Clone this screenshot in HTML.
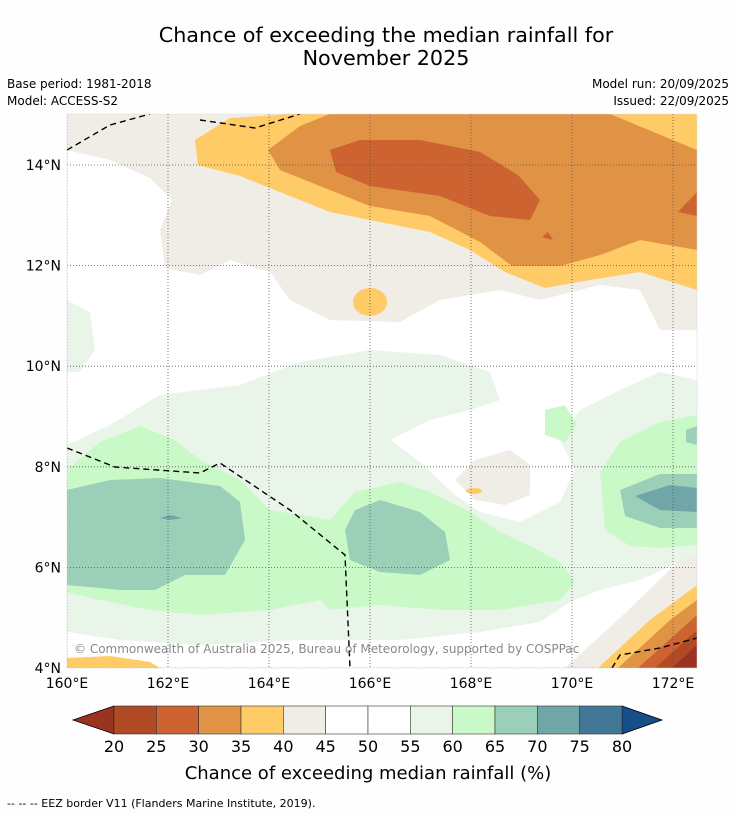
<!DOCTYPE html>
<html><head><meta charset="utf-8"><style>
body{margin:0;background:#fff;font-family:"Liberation Sans","DejaVu Sans",sans-serif;}
#wrap{position:relative;width:736px;height:816px;overflow:hidden;background:#fefefe}
svg text{font-family:"DejaVu Sans","Liberation Sans",sans-serif}
</style></head><body>
<div id="wrap">
<svg id="svg" width="736" height="816" viewBox="0 0 736 816">
<text x="386" y="42" font-size="20.7" text-anchor="middle">Chance of exceeding the median rainfall for</text>
<text x="386" y="65" font-size="20.7" text-anchor="middle">November 2025</text>
<text x="7" y="88" font-size="12">Base period: 1981-2018</text>
<text x="7" y="105" font-size="12">Model: ACCESS-S2</text>
<text x="729" y="88" font-size="12" text-anchor="end">Model run: 20/09/2025</text>
<text x="729" y="105" font-size="12" text-anchor="end">Issued: 22/09/2025</text>
<defs><clipPath id="mc"><rect x="67" y="114" width="630" height="554"/></clipPath></defs>
<g clip-path="url(#mc)">
<rect x="67" y="114" width="630" height="554" fill="#ffffff"/>
<path fill="#f0ece6" d="M67,114 L697,114 L697,330 L660,330 L640,290 L600,285 L540,300 L500,290 L440,300 L400,322 L330,320 L290,300 L270,272 L230,260 L200,275 L165,268 L160,230 L172,200 L150,178 L110,160 L67,150 Z"/>
<path fill="#fecb66" d="M195,140 L230,118 L290,114 L697,114 L697,290 L640,272 L590,280 L545,288 L505,272 L470,250 L430,232 L380,222 L330,212 L290,196 L240,176 L198,165 Z"/>
<ellipse cx="370" cy="302" rx="17" ry="14" fill="#fecb66"/>
<path fill="#e09245" d="M268,150 L300,126 L330,114 L610,114 L697,150 L697,250 L640,240 L600,255 L560,266 L512,266 L480,242 L430,216 L370,206 L320,186 L280,170 Z"/>
<path fill="#cc6330" d="M330,150 L360,140 L420,140 L480,152 L518,175 L540,200 L530,220 L490,216 L440,196 L370,186 L336,172 Z"/>
<path fill="#cc6330" d="M678,212 L697,192 L697,216 Z"/>
<path fill="#cc6330" d="M542,237 L548,232 L553,240 Z"/>
<path fill="#eaf5ea" d="M67,300 L90,312 L95,350 L80,372 L67,372 Z"/>
<path fill="#eaf5ea" d="M67,445 L110,425 L160,395 L240,385 L300,362 L370,350 L440,355 L490,372 L500,400 L470,410 L430,420 L390,440 L420,462 L455,495 L480,512 L520,522 L560,502 L575,470 L560,440 L580,410 L620,390 L660,372 L697,380 L697,555 L680,562 L640,580 L600,590 L570,602 L540,622 L480,632 L400,640 L300,640 L200,645 L120,640 L67,632 Z"/>
<path fill="#ffffff" d="M430,440 L470,425 L520,430 L560,450 L570,480 L555,505 L520,515 L480,505 L455,485 L435,460 Z"/>
<path fill="#f0ece6" d="M455,480 L475,460 L510,450 L530,465 L530,495 L505,505 L475,500 Z"/>
<ellipse fill="#fecb66" cx="474" cy="491" rx="8" ry="3"/>
<path fill="#caf9c8" d="M67,470 L100,442 L140,426 L175,440 L200,460 L240,480 L270,510 L330,520 L355,492 L400,482 L430,492 L470,512 L500,532 L530,546 L560,562 L575,582 L560,600 L500,610 L440,610 L380,605 L330,610 L320,600 L270,610 L200,615 L150,610 L100,600 L67,592 Z"/>
<path fill="#caf9c8" d="M600,472 L620,442 L660,422 L697,415 L697,545 L660,548 L630,546 L605,530 Z"/>
<path fill="#caf9c8" d="M545,410 L565,405 L577,425 L565,442 L545,435 Z"/>
<path fill="#9ccfb8" d="M67,490 L110,480 L160,478 L220,486 L240,502 L245,540 L225,575 L185,575 L155,590 L120,590 L67,585 Z"/>
<path fill="#9ccfb8" d="M355,510 L380,500 L420,512 L445,532 L450,560 L420,575 L380,572 L350,560 L345,530 Z"/>
<path fill="#9ccfb8" d="M620,490 L660,474 L697,474 L697,528 L660,528 L625,516 Z"/>
<path fill="#9ccfb8" d="M686,430 L697,426 L697,445 L686,442 Z"/>
<path fill="#71a6a8" d="M635,496 L670,485 L697,488 L697,512 L660,510 Z"/>
<path fill="#71a6a8" d="M160,518 L170,515 L182,518 L170,520 Z"/>
<path fill="#f0ece6" d="M565,668 L620,618 L680,560 L697,555 L697,668 Z"/>
<path fill="#fecb66" d="M598,668 L650,620 L697,585 L697,668 Z"/>
<path fill="#e09245" d="M618,668 L670,620 L697,600 L697,668 Z"/>
<path fill="#cc6330" d="M638,668 L697,615 L697,668 Z"/>
<path fill="#b04a24" d="M655,668 L697,630 L697,668 Z"/>
<path fill="#9a3320" d="M672,668 L697,645 L697,668 Z"/>
<path fill="#fecb66" d="M67,668 L67,658 L110,656 L150,662 L160,668 Z"/>
<g id="grid" stroke="#555" stroke-width="0.8" stroke-dasharray="1,2" fill="none"></g>
<g stroke="#000" stroke-width="1.4" stroke-dasharray="6,4" fill="none">
<path d="M67,150 L110,125 L150,114"/>
<path d="M200,120 L255,128 L300,114"/>
<path d="M67,448 L115,467 L200,473 L220,463 L290,510 L345,555 L350,668"/>
<path d="M612,668 L620,655 L660,648 L697,638"/>
</g>
<text x="74" y="653" font-size="12" fill="#888">© Commonwealth of Australia 2025, Bureau of Meteorology, supported by COSPPac</text>
</g>
<rect x="67" y="114" width="630" height="554" fill="none" stroke="#ddd" stroke-width="0.5"/>
<g id="axes"></g>
<g id="cbar"></g>
<text x="368" y="779" font-size="18" text-anchor="middle">Chance of exceeding median rainfall (%)</text>
<text x="7" y="807" font-size="11">--  --  -- EEZ border V11 (Flanders Marine Institute, 2019).</text>
</svg>
</div>
<script>
const lonTicks=[160,162,164,166,168,170,172];
const latTicks=[4,6,8,10,12,14];
const cbarBounds=[20,25,30,35,40,45,50,55,60,65,70,75,80];
const cbarColors=["#b04a24","#cc6330","#e09245","#fecb66","#f0ece6","#ffffff","#ffffff","#eaf5ea","#caf9c8","#9ccfb8","#71a6a8","#427895"];
const NS="http://www.w3.org/2000/svg";
const xLon=l=>67+(l-160)*50.5, yLat=l=>668-(l-4)*50.3;
const xC=v=>114+(v-20)*(508/60);
function mk(t,a,p){const e=document.createElementNS(NS,t);for(const k in a)e.setAttribute(k,a[k]);p.appendChild(e);return e;}
const grid=document.getElementById('grid'),axes=document.getElementById('axes'),cb=document.getElementById('cbar');
lonTicks.forEach(l=>{
 const g=mk('line',{x1:xLon(l),x2:xLon(l),y1:114,y2:668},grid);
 
 
 const t=mk('text',{x:xLon(l),y:688,'font-size':14,'text-anchor':'middle'},axes);
 
 
 t.textContent=l+'°E';
});
latTicks.forEach(l=>{
 const g=mk('line',{x1:67,x2:697,y1:yLat(l),y2:yLat(l)},grid);
 
 
 const t=mk('text',{x:61,y:yLat(l)+5,'font-size':14,'text-anchor':'end'},axes);
 
 
 t.textContent=l+'°N';
});
const y0=706,y1=734;
const lt=mk('path',{d:`M${xC(20)},${y0} L73,${(y0+y1)/2} L${xC(20)},${y1} Z`,fill:'#9a3320',stroke:'#000','stroke-width':0.8},cb);


const rt=mk('path',{d:`M${xC(80)},${y0} L662,${(y0+y1)/2} L${xC(80)},${y1} Z`,fill:'#144f87',stroke:'#000','stroke-width':0.8},cb);


cbarColors.forEach((c,i)=>{
 const r=mk('rect',{x:xC(cbarBounds[i]),y:y0,width:xC(cbarBounds[i+1])-xC(cbarBounds[i]),height:y1-y0,fill:c,stroke:'#333','stroke-width':0.6},cb);
 
 
});
cbarBounds.forEach(v=>{
 const t=mk('text',{x:xC(v),y:752,'font-size':16,'text-anchor':'middle'},cb);
 
 
 t.textContent=v;
});
</script>
</body></html>
